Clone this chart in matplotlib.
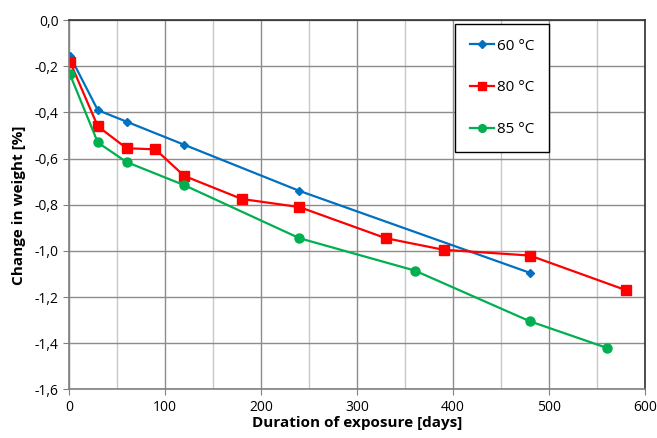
import matplotlib.pyplot as plt
from matplotlib.ticker import MultipleLocator, FuncFormatter

# data
dagar_60 = [1, 30, 60, 120, 240, 480]
wt_60 = [-0.155, -0.39, -0.44, -0.54, -0.74, -1.095]

dagar_80 = [1, 30, 60, 90, 120, 180, 240, 330, 390, 480, 580]
wt_80 = [-0.18, -0.46, -0.555, -0.56, -0.675, -0.775, -0.81, -0.945, -0.995, -1.02, -1.17]

dagar_85 = [1, 30, 60, 120, 240, 360, 480, 560]
wt_85 = [-0.235, -0.53, -0.615, -0.715, -0.945, -1.085, -1.305, -1.42]

plt.rcParams['font.family'] = ['Open Sans', 'DejaVu Sans']

fig = plt.figure(figsize=(6.57, 4.38), dpi=100)
ax = fig.add_axes([0.105, 0.111, 0.877, 0.843])

ax.plot(dagar_60, wt_60, color='#0070C0', marker='D', markersize=4.5, linewidth=1.6, label='60 °C')
ax.plot(dagar_80, wt_80, color='#FF0000', marker='s', markersize=6.5, linewidth=1.6, label='80 °C')
ax.plot(dagar_85, wt_85, color='#00B050', marker='o', markersize=6.5, linewidth=1.6, label='85 °C')

ax.set_xlim(0, 600)
ax.set_ylim(-1.6, 0)
ax.xaxis.set_major_locator(MultipleLocator(100))
ax.xaxis.set_minor_locator(MultipleLocator(50))
ax.yaxis.set_major_locator(MultipleLocator(0.2))
ax.yaxis.set_major_formatter(FuncFormatter(lambda v, p: f'{v:.1f}'.replace('.', ',').replace('-0,0', '0,0')))

ax.grid(True, which='major', color='#8c8c8c', linewidth=1.0)
ax.grid(True, which='minor', axis='x', color='#c8c8c8', linewidth=1.0)
ax.set_axisbelow(True)
ax.tick_params(which='minor', length=0)
ax.tick_params(which='major', length=4, color='#808080', labelsize=10)

for s in ['left', 'bottom']:
    ax.spines[s].set_color('#808080')
    ax.spines[s].set_linewidth(1.2)
for s in ['top', 'right']:
    ax.spines[s].set_color('#303030')
    ax.spines[s].set_linewidth(1.2)

ax.set_xlabel('Duration of exposure [days]', fontsize=11, fontweight='bold', labelpad=1)
ax.set_ylabel('Change in weight [%]', fontsize=11, fontweight='bold', labelpad=6)

leg = ax.legend(loc='upper left', bbox_to_anchor=(0.670, 0.989), borderaxespad=0,
                fontsize=11, labelspacing=1.75, markerscale=0.85,
                handlelength=1.6, handletextpad=0.2, borderpad=0.95, fancybox=False,
                framealpha=1, edgecolor='black')
leg.get_frame().set_linewidth(1.0)

plt.savefig('out.png', dpi=100)
